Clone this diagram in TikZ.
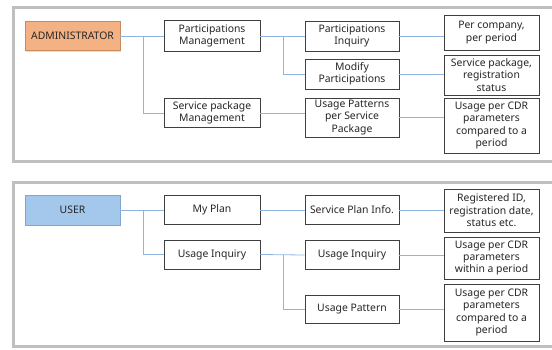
\documentclass[tikz,border=0pt]{standalone}
\usepackage{fontspec}
\setmainfont{Noto Sans}
\usetikzlibrary{shadows}
\definecolor{adminfill}{HTML}{F4B183}
\definecolor{adminline}{HTML}{C98A5E}
\definecolor{userfill}{HTML}{A4C8EC}
\definecolor{userline}{HTML}{7FA6CF}
\definecolor{connc}{HTML}{8DB4E2}
\definecolor{framec}{HTML}{BFBFBF}
\definecolor{boxline}{HTML}{3F3F3F}
\tikzset{
  box/.style={draw=boxline, line width=0.8pt, fill=white, rectangle, inner sep=0pt,
    align=center, font=\fontsize{10.4}{12.4}\selectfont, text=black!85},
  rolebox/.style={box, drop shadow={shadow xshift=1pt, shadow yshift=-1pt, opacity=0.25}},
  conn/.style={draw=connc, line width=0.8pt},
  frame/.style={draw=framec, line width=3pt}
}
\begin{document}
\begin{tikzpicture}[x=1pt,y=-1pt]
\useasboundingbox (0,0) rectangle (552,349);
\begin{scope}
\clip (0,0) rectangle (552,349);
\draw[frame] (13,7) rectangle (600,161.5);
\draw[frame] (13,182) rectangle (600,346);
\end{scope}
% top panel
\node[rolebox, fill=adminfill, draw=adminline, minimum width=95pt, minimum height=29pt] (admin) at (72.5,36) {ADMINISTRATOR};
\node[box, minimum width=96pt, minimum height=31pt] (pm) at (212,36) {Participations\\Management};
\node[box, minimum width=96pt, minimum height=29pt] (spm) at (212,113) {Service package\\Management};
\node[box, minimum width=94pt, minimum height=30pt] (pi) at (352,36) {Participations\\Inquiry};
\node[box, minimum width=94pt, minimum height=30pt] (mp) at (352,74) {Modify\\Participations};
\node[box, minimum width=94pt, minimum height=39pt] (upsp) at (352,117.5) {Usage Patterns\\per Service\\Package};
\node[box, minimum width=95pt, minimum height=35pt] (pc) at (491.5,32.5) {Per company,\\per period};
\node[box, minimum width=95pt, minimum height=40pt] (sp) at (491.5,75) {Service package,\\registration\\status};
\node[box, minimum width=95pt, minimum height=55pt] (uc1) at (491.5,125.5) {Usage per CDR\\parameters\\compared to a\\period};
\coordinate (j1) at (143,36);
\coordinate (j2) at (283,36);
\draw[conn] (admin.east) -- (pm.west);
\draw[conn] (j1) |- (spm.west);
\draw[conn] (pm.east) -- (pi.west);
\draw[conn] (j2) |- (mp.west);
\draw[conn] (spm.east) -- (spm.east -| upsp.west);
\draw[conn] (pi.east) -- (pi.east -| pc.west);
\draw[conn] (mp.east) -- (mp.east -| sp.west);
\draw[conn] (upsp.east) -- (upsp.east -| uc1.west);
% bottom panel
\node[rolebox, fill=userfill, draw=userline, minimum width=95pt, minimum height=30pt] (user) at (72.5,210) {USER};
\node[box, minimum width=96pt, minimum height=29pt] (myplan) at (212,210) {My Plan};
\node[box, minimum width=96pt, minimum height=29pt] (ui) at (212,254.5) {Usage Inquiry};
\node[box, minimum width=94pt, minimum height=29pt] (spi) at (352,210) {Service Plan Info.};
\node[box, minimum width=94pt, minimum height=29pt] (ui2) at (352,255) {Usage Inquiry};
\node[box, minimum width=94pt, minimum height=28pt] (up) at (352,309) {Usage Pattern};
\node[box, minimum width=95pt, minimum height=43pt] (rid) at (491.5,210.5) {Registered ID,\\registration date,\\status etc.};
\node[box, minimum width=95pt, minimum height=42pt] (uwp) at (491.5,258) {Usage per CDR\\parameters\\within a period};
\node[box, minimum width=95pt, minimum height=57pt] (uc2) at (491.5,312.5) {Usage per CDR\\parameters\\compared to a\\period};
\coordinate (k1) at (143,210);
\coordinate (k2) at (283,255);
\draw[conn] (user.east) -- (myplan.west);
\draw[conn] (k1) |- (ui.west);
\draw[conn] (myplan.east) -- (spi.west);
\draw[conn] (ui.east) -- (ui2.west);
\draw[conn] (k2) |- (up.west);
\draw[conn] (spi.east) -- (spi.east -| rid.west);
\draw[conn] (ui2.east) -- (ui2.east -| uwp.west);
\draw[conn] (up.east) -- (up.east -| uc2.west);
\end{tikzpicture}
\end{document}
